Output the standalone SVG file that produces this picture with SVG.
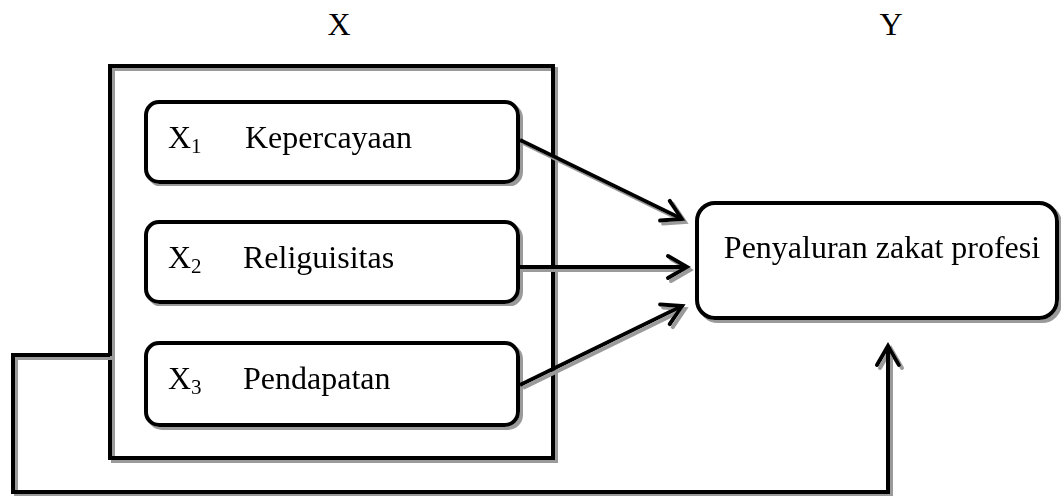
<svg xmlns="http://www.w3.org/2000/svg" width="1061" height="496" viewBox="0 0 1061 496">
  <style>
    .ln { fill: none; stroke: #000; stroke-width: 4; stroke-linejoin: miter; }
    .box { fill: #fff; stroke: #000; stroke-width: 4; }
    .t { font-family: "Liberation Serif", "Times New Roman", serif; font-size: 32px; fill: #000; }
    .sub { font-size: 21px; }
  </style>
  <defs>
    <filter id="sh" x="-5%" y="-5%" width="110%" height="110%">
      <feFlood flood-color="#9a9a9a" result="c"/>
      <feComposite in="c" in2="SourceAlpha" operator="in" result="s"/>
      <feOffset in="s" dx="3" dy="3" result="o"/>
      <feMerge><feMergeNode in="o"/><feMergeNode in="SourceGraphic"/></feMerge>
    </filter>
    <marker id="ah" markerUnits="userSpaceOnUse" markerWidth="40" markerHeight="40" viewBox="-30 -20 40 40" refX="0" refY="0" orient="auto">
      <path d="M -19 -11 L 0 0 L -19 11" fill="none" stroke="#000" stroke-width="4" stroke-linecap="round"/>
    </marker>
  </defs>

  <text class="t" x="339" y="35" text-anchor="middle">X</text>
  <text class="t" x="891" y="35" text-anchor="middle">Y</text>

  <g id="group-x" filter="url(#sh)">
    <rect class="ln" x="110" y="66" width="443" height="392"/>
  </g>

  <g id="x1" filter="url(#sh)">
    <rect class="box" x="146" y="102" width="372" height="80" rx="13"/>
    <text class="t" x="168" y="148">X<tspan class="sub" dy="5">1</tspan></text>
    <text class="t" x="245" y="148">Kepercayaan</text>
  </g>
  <g id="x2" filter="url(#sh)">
    <rect class="box" x="146" y="222" width="372" height="80" rx="13"/>
    <text class="t" x="168" y="268">X<tspan class="sub" dy="5">2</tspan></text>
    <text class="t" x="243" y="268">Religuisitas</text>
  </g>
  <g id="x3" filter="url(#sh)">
    <rect class="box" x="146" y="343" width="372" height="82" rx="13"/>
    <text class="t" x="168" y="389">X<tspan class="sub" dy="5">3</tspan></text>
    <text class="t" x="243" y="389">Pendapatan</text>
  </g>

  <g id="y" filter="url(#sh)">
    <rect class="box" x="697" y="203" width="360" height="115" rx="18"/>
    <text class="t" x="882" y="258" text-anchor="middle">Penyaluran zakat profesi</text>
  </g>

  <g id="connectors" filter="url(#sh)">
    <line class="ln" x1="520" y1="140" x2="682" y2="219" marker-end="url(#ah)"/>
    <line class="ln" x1="520" y1="267" x2="687" y2="267" marker-end="url(#ah)"/>
    <line class="ln" x1="520" y1="385" x2="682" y2="306" marker-end="url(#ah)"/>
    <path class="ln" d="M110 355 H13 V492 H888 V346" marker-end="url(#ah)"/>
  </g>
</svg>
